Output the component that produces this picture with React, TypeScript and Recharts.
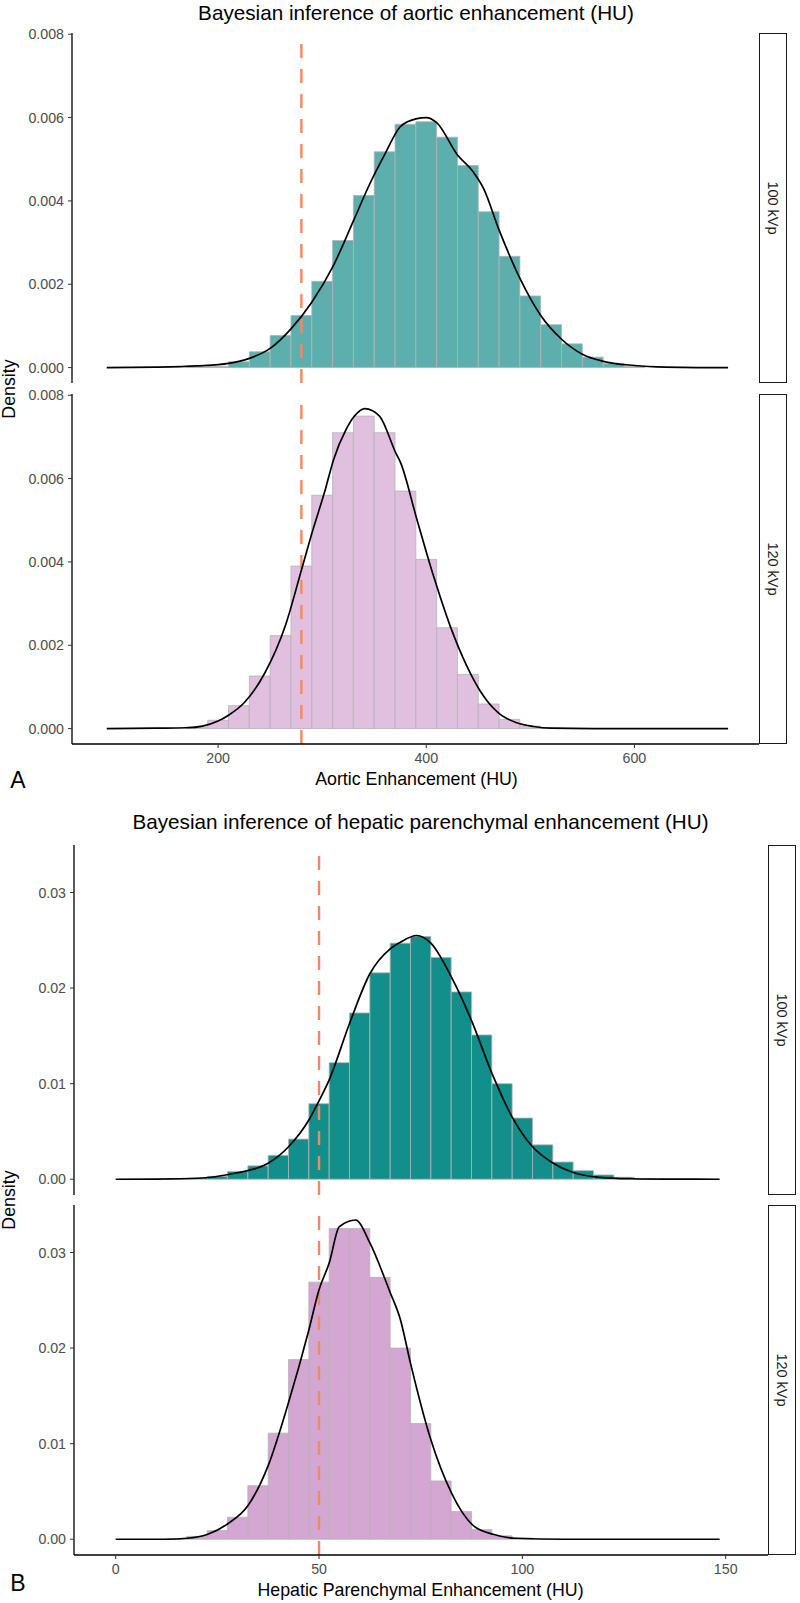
import React from "react";
import { BarChart, Bar, LineChart, Line, XAxis, YAxis, ReferenceLine } from "recharts";

const FONT = "'Liberation Sans', Arial, Helvetica, sans-serif";

// ---- A: aortic enhancement (HU), 20 HU bins (bin centres)
const aorticBins = [180, 200, 220, 240, 260, 280, 300, 320, 340, 360, 380, 400, 420, 440, 460, 480, 500, 520, 540, 560, 580, 600];
const aortic100Hist = [0.00001, 0.00003, 0.00014, 0.00038, 0.00077, 0.00125, 0.00207, 0.00305, 0.00413, 0.00518, 0.00584, 0.0059, 0.00553, 0.00485, 0.00374, 0.00267, 0.00172, 0.00103, 0.00057, 0.00025, 0.0001, 0.00003];
const aortic120Hist = [0.00004, 0.0002, 0.00055, 0.00126, 0.00223, 0.0039, 0.0056, 0.0071, 0.0075, 0.0071, 0.0057, 0.00406, 0.00242, 0.0013, 0.00059, 0.00022, 0.00006, 0.00001, 0, 0, 0, 0];

const aortic100CurveX = [93, 140, 180, 210, 230, 250, 270, 290, 310, 330, 345, 360, 375, 390, 400, 410, 430, 445, 455, 470, 490, 510, 530, 550, 570, 600, 630, 660, 690];
const aortic100CurveY = [0, 0.00001, 0.00004, 0.0001, 0.00022, 0.00046, 0.00093, 0.00157, 0.00241, 0.00352, 0.00437, 0.00511, 0.00578, 0.00597, 0.006, 0.00588, 0.0051, 0.0047, 0.0043, 0.0033, 0.00214, 0.00125, 0.00068, 0.00032, 0.00015, 0.00005, 0.00001, 0, 0];

const aortic120CurveX = [93, 140, 170, 185, 200, 210, 225, 245, 265, 280, 290, 303, 311, 323, 331, 341, 355, 371, 375, 391, 407, 423, 439, 455, 471, 487, 503, 520, 560, 690];
const aortic120CurveY = [0, 0.00001, 0.00002, 0.00006, 0.00018, 0.00032, 0.00062, 0.00134, 0.0025, 0.0038, 0.00468, 0.00574, 0.00646, 0.00718, 0.0075, 0.00768, 0.0075, 0.0066, 0.0064, 0.00502, 0.00366, 0.00246, 0.0015, 0.00078, 0.00034, 0.00014, 0.00005, 0.00001, 0, 0];

const aorticXTicks = [200, 400, 600];
const aorticYTicks = [0, 0.002, 0.004, 0.006, 0.008];
const aorticCutoff = 280;

// ---- B: hepatic parenchymal enhancement (HU), 5 HU bins (bin centres)
const hepaticBins = [15, 20, 25, 30, 35, 40, 45, 50, 55, 60, 65, 70, 75, 80, 85, 90, 95, 100, 105, 110, 115, 120, 125, 130];
const hepatic100Hist = [0.00003, 0.0001, 0.0003, 0.0008, 0.0014, 0.0025, 0.0042, 0.0079, 0.0122, 0.0174, 0.0216, 0.0247, 0.0254, 0.0232, 0.0196, 0.0151, 0.01, 0.0064, 0.0036, 0.0018, 0.0009, 0.00045, 0.0002, 0.00005];
const hepatic120Hist = [0.00005, 0.0003, 0.0009, 0.0023, 0.0056, 0.0111, 0.0188, 0.0269, 0.0325, 0.0325, 0.0274, 0.02, 0.0121, 0.0061, 0.0029, 0.001, 0.00035, 0.0001, 0, 0, 0, 0, 0, 0];

const hepatic100CurveX = [0, 10, 20, 29, 37.5, 42.5, 47.5, 50, 52.5, 57.5, 62.5, 67.5, 70, 74, 77.5, 82.5, 87.5, 92.5, 97.5, 102.5, 107.5, 112.5, 119, 127, 135, 148.5];
const hepatic100CurveY = [0, 0.00002, 0.0001, 0.0006, 0.00167, 0.0034, 0.0062, 0.0082, 0.0104, 0.0163, 0.0215, 0.0241, 0.0248, 0.0255, 0.0247, 0.0212, 0.0166, 0.0111, 0.0065, 0.0034, 0.0017, 0.0007, 0.0002, 0.00005, 0.00001, 0];

const hepatic120CurveX = [0, 12.5, 17.5, 22.5, 27.5, 32.5, 37.5, 42.5, 47.5, 50, 52.5, 55, 59, 62.5, 67.5, 70, 72.5, 77.5, 82.5, 88, 93, 98.5, 110, 148.5];
const hepatic120CurveY = [0, 0, 0.0001, 0.0005, 0.0016, 0.0035, 0.0077, 0.0143, 0.0219, 0.0261, 0.0289, 0.0327, 0.0334, 0.031, 0.0258, 0.023, 0.0184, 0.0104, 0.0049, 0.0014, 0.0005, 0.0001, 0, 0];

const hepaticXTicks = [0, 50, 100, 150];
const hepaticYTicks = [0, 0.01, 0.02, 0.03];
const hepaticCutoff = 50;

const facetLabels = ["100 kVp", "120 kVp"];

const TEAL_A = "#5cafad";
const PINK_A = "#e0c0de";
const TEAL_B = "#128f8a";
const PINK_B = "#d4a6d2";
const CUTOFF_COLOR = "#f28b5c";

type FacetProps = {
  left: number;
  right: number;
  top: number;
  height: number;
  xDomain: [number, number];
  yDomain: [number, number];
  yTicks: number[];
  yDigits: number;
  xTicks?: number[];
  showX: boolean;
  bins: number[];
  binWidth: number;
  hist: number[];
  curveX: number[];
  curveY: number[];
  fill: string;
  cutoff: number;
  label: string;
};

const tickStyle = { fill: "#4d4d4d", fontSize: 14.2, fontFamily: FONT };
const PAD = 12; // room above the panel so the top tick label isn't clipped

function Facet(p: FacetProps) {
  const plotW = p.right - p.left;
  const xAxisH = p.showX ? 30 : 0;
  const W = p.right + 2;
  const H = p.height + xAxisH + PAD;
  const binPx = (p.binWidth / (p.xDomain[1] - p.xDomain[0])) * plotW;
  const histData = p.bins.map((b, i) => ({ x: b, d: p.hist[i] }));
  const curveData = p.curveX.map((x, i) => ({ x, d: p.curveY[i] }));

  return (
    <>
      <div style={{ position: "absolute", left: 0, top: p.top - PAD }}>
        <BarChart
          width={W}
          height={H}
          data={histData}
          margin={{ top: PAD, right: 2, bottom: 0, left: 0 }}
          barCategoryGap={0}
          barGap={0}
        >
          <XAxis
            type="number"
            dataKey="x"
            domain={p.xDomain}
            allowDataOverflow
            ticks={p.xTicks}
            interval={0}
            hide={!p.showX}
            height={xAxisH}
            tick={tickStyle}
            tickSize={4}
            tickMargin={5}
            tickLine={{ stroke: "#333" }}
            axisLine={{ stroke: "#000", strokeWidth: 1.3 }}
          />
          <YAxis
            type="number"
            domain={p.yDomain}
            allowDataOverflow
            ticks={p.yTicks}
            interval={0}
            width={p.left}
            tick={tickStyle}
            tickSize={4}
            tickMargin={4}
            tickLine={{ stroke: "#333" }}
            axisLine={{ stroke: "#000", strokeWidth: 1.3 }}
            tickFormatter={(v: number) => v.toFixed(p.yDigits)}
          />
          <Bar
            dataKey="d"
            fill={p.fill}
            stroke="#b3b3b3"
            strokeWidth={0.8}
            barSize={binPx - 0.05}
            isAnimationActive={false}
          />
          <ReferenceLine x={p.cutoff} stroke={CUTOFF_COLOR} strokeWidth={2.4} strokeDasharray="14 11" />
        </BarChart>
      </div>
      <div style={{ position: "absolute", left: 0, top: p.top - PAD }}>
        <LineChart
          width={W}
          height={H}
          data={curveData}
          margin={{ top: PAD, right: 2, bottom: xAxisH, left: p.left }}
        >
          <XAxis type="number" dataKey="x" domain={p.xDomain} allowDataOverflow hide />
          <YAxis type="number" domain={p.yDomain} allowDataOverflow hide />
          <Line
            type="monotone"
            dataKey="d"
            stroke="#000"
            strokeWidth={1.7}
            dot={false}
            isAnimationActive={false}
          />
        </LineChart>
      </div>
      <div
        style={{
          position: "absolute",
          left: p.right,
          top: p.top,
          width: 28,
          height: p.height,
          boxSizing: "border-box",
          border: "1.5px solid #1a1a1a",
          background: "#fff",
        }}
      />
      <Txt x={p.right + 14} y={p.top + p.height / 2} size={14.5} rotate={90} color="#1a1a1a">
        {p.label}
      </Txt>
    </>
  );
}

function Txt(props: {
  x: number;
  y: number;
  size: number;
  rotate?: number;
  color?: string;
  children: React.ReactNode;
}) {
  return (
    <div
      style={{
        position: "absolute",
        left: props.x,
        top: props.y,
        transform: `translate(-50%, -50%) rotate(${props.rotate ?? 0}deg)`,
        fontSize: props.size,
        lineHeight: 1,
        whiteSpace: "nowrap",
        fontFamily: FONT,
        color: props.color ?? "#000",
      }}
    >
      {props.children}
    </div>
  );
}

export default function App() {
  const aDomainX: [number, number] = [59.6, 719.7];
  const aDomainY: [number, number] = [-0.00037, 0.00803];
  const bDomainX: [number, number] = [-10.25, 160.4];
  const bDomainY: [number, number] = [-0.00165, 0.03497];

  return (
    <div
      style={{
        position: "absolute",
        left: 0,
        top: 0,
        width: 800,
        height: 1603,
        background: "#fff",
        overflow: "hidden",
      }}
    >
      {/* Panel A */}
      <Txt x={416} y={13} size={20.7}>Bayesian inference of aortic enhancement (HU)</Txt>
      <Facet
        left={72}
        right={759}
        top={33}
        height={350}
        xDomain={aDomainX}
        yDomain={aDomainY}
        yTicks={aorticYTicks}
        yDigits={3}
        showX={false}
        bins={aorticBins}
        binWidth={20}
        hist={aortic100Hist}
        curveX={aortic100CurveX}
        curveY={aortic100CurveY}
        fill={TEAL_A}
        cutoff={aorticCutoff}
        label={facetLabels[0]}
      />
      <Facet
        left={72}
        right={759}
        top={394}
        height={350}
        xDomain={aDomainX}
        yDomain={aDomainY}
        yTicks={aorticYTicks}
        yDigits={3}
        xTicks={aorticXTicks}
        showX={true}
        bins={aorticBins}
        binWidth={20}
        hist={aortic120Hist}
        curveX={aortic120CurveX}
        curveY={aortic120CurveY}
        fill={PINK_A}
        cutoff={aorticCutoff}
        label={facetLabels[1]}
      />
      <Txt x={10} y={389} size={17.8} rotate={-90}>Density</Txt>
      <Txt x={416.5} y={780} size={17.8}>Aortic Enhancement (HU)</Txt>
      <Txt x={18} y={780} size={23}>A</Txt>

      {/* Panel B */}
      <Txt x={420.5} y={822} size={20.7}>Bayesian inference of hepatic parenchymal enhancement (HU)</Txt>
      <Facet
        left={74}
        right={768}
        top={845}
        height={350}
        xDomain={bDomainX}
        yDomain={bDomainY}
        yTicks={hepaticYTicks}
        yDigits={2}
        showX={false}
        bins={hepaticBins}
        binWidth={5}
        hist={hepatic100Hist}
        curveX={hepatic100CurveX}
        curveY={hepatic100CurveY}
        fill={TEAL_B}
        cutoff={hepaticCutoff}
        label={facetLabels[0]}
      />
      <Facet
        left={74}
        right={768}
        top={1205}
        height={350}
        xDomain={bDomainX}
        yDomain={bDomainY}
        yTicks={hepaticYTicks}
        yDigits={2}
        xTicks={hepaticXTicks}
        showX={true}
        bins={hepaticBins}
        binWidth={5}
        hist={hepatic120Hist}
        curveX={hepatic120CurveX}
        curveY={hepatic120CurveY}
        fill={PINK_B}
        cutoff={hepaticCutoff}
        label={facetLabels[1]}
      />
      <Txt x={10} y={1200} size={17.8} rotate={-90}>Density</Txt>
      <Txt x={420.5} y={1591} size={17.8}>Hepatic Parenchymal Enhancement (HU)</Txt>
      <Txt x={18} y={1583} size={23}>B</Txt>
    </div>
  );
}
